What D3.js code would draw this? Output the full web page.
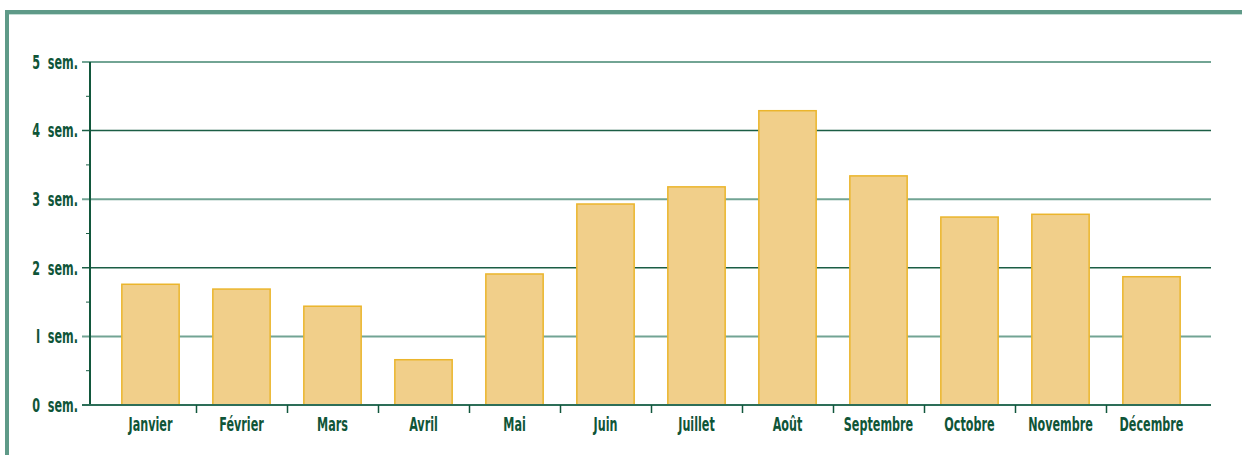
<!DOCTYPE html>
<html lang="fr">
<head>
<meta charset="utf-8">
<title>Durée par mois</title>
<script src="https://d3js.org/d3.v7.min.js"></script>
<style>
  body { margin: 0; background: #fff; }
  text { font-family: "DejaVu Sans", sans-serif; font-stretch: condensed; font-weight: bold; fill: #0f5538; }
</style>
</head>
<body>
<div id="chart"></div>
<script>
// data
var months = ["Janvier", "Février", "Mars", "Avril", "Mai", "Juin", "Juillet", "Août", "Septembre", "Octobre", "Novembre", "Décembre"];
var weeks = [1.76, 1.69, 1.44, 0.66, 1.91, 2.93, 3.18, 4.29, 3.34, 2.74, 2.78, 1.87];
var yTicks = [0, 1, 2, 3, 4, 5];
var yMinor = [0.5, 1.5, 2.5, 3.5, 4.5];

var W = 1242, H = 455;
var svg = d3.select("#chart").append("svg")
    .attr("width", W).attr("height", H);

// frame
svg.append("rect").attr("x", 5).attr("y", 10).attr("width", W - 5).attr("height", 4).attr("fill", "#5f9a88");
svg.append("rect").attr("x", 9).attr("y", 14).attr("width", W - 9).attr("height", 1).attr("fill", "#c4ddd5");
svg.append("rect").attr("x", 5).attr("y", 10).attr("width", 4).attr("height", H - 10).attr("fill", "#5f9a88");

var x0 = 90, x1 = 1211, yBase = 405, yTop = 62;
var squeeze = 0.655; // narrow the font horizontally

var x = d3.scaleBand().domain(months).range([105, 1197])
    .paddingInner(0.37).paddingOuter(0.185);
var y = d3.scaleLinear().domain([0, 5]).range([yBase, yTop]);

// gridlines
svg.append("g").selectAll("line").data(yTicks.filter(d => d > 0)).enter()
    .append("line")
    .attr("x1", 82).attr("x2", x1)
    .attr("y1", d => y(d)).attr("y2", d => y(d))
    .attr("stroke", d => d % 2 === 0 ? "#1b5e45" : "#72a494")
    .attr("stroke-width", d => d % 2 === 0 ? 1.5 : 2);

// minor ticks
svg.append("g").selectAll("line").data(yMinor).enter()
    .append("line")
    .attr("x1", 86).attr("x2", x0)
    .attr("y1", d => y(d)).attr("y2", d => y(d))
    .attr("stroke", "#1b5e45").attr("stroke-width", 1);

// bars
svg.append("g").selectAll("rect").data(weeks).enter()
    .append("rect")
    .attr("x", (d, i) => x(months[i]))
    .attr("y", d => y(d))
    .attr("width", x.bandwidth())
    .attr("height", d => yBase - y(d))
    .attr("fill", "#f1cf8a")
    .attr("stroke", "#ebb52c")
    .attr("stroke-width", 1.5);

// axes lines
svg.append("line").attr("x1", x0).attr("x2", x0).attr("y1", yTop).attr("y2", yBase)
    .attr("stroke", "#12573c").attr("stroke-width", 2);
svg.append("line").attr("x1", 82).attr("x2", x1).attr("y1", yBase).attr("y2", yBase)
    .attr("stroke", "#2d6e58").attr("stroke-width", 2);

// x ticks between months
svg.append("g").selectAll("line").data(months.slice(1)).enter()
    .append("line")
    .attr("x1", d => Math.round(x(d) - x.step() * x.paddingInner() / 2) + 0.5)
    .attr("x2", d => Math.round(x(d) - x.step() * x.paddingInner() / 2) + 0.5)
    .attr("y1", yBase).attr("y2", yBase + 8)
    .attr("stroke", "#12573c").attr("stroke-width", 1.5);

// y labels
svg.append("g").selectAll("text").data(yTicks).enter()
    .append("text")
    .attr("transform", d => "translate(78," + y(d) + ") scale(" + squeeze + ",1)")
    .attr("dy", "0.36em")
    .attr("text-anchor", "end")
    .attr("font-size", 19)
    .style("white-space", "pre")
    .text(d => (d === 1 ? "I" : d) + "  sem.");

// x labels
svg.append("g").selectAll("text").data(months).enter()
    .append("text")
    .attr("transform", d => "translate(" + (x(d) + x.bandwidth() / 2) + ",431) scale(" + squeeze + ",1)")
    .attr("text-anchor", "middle")
    .attr("font-size", 19)
    .text(d => d);
</script>
</body>
</html>
